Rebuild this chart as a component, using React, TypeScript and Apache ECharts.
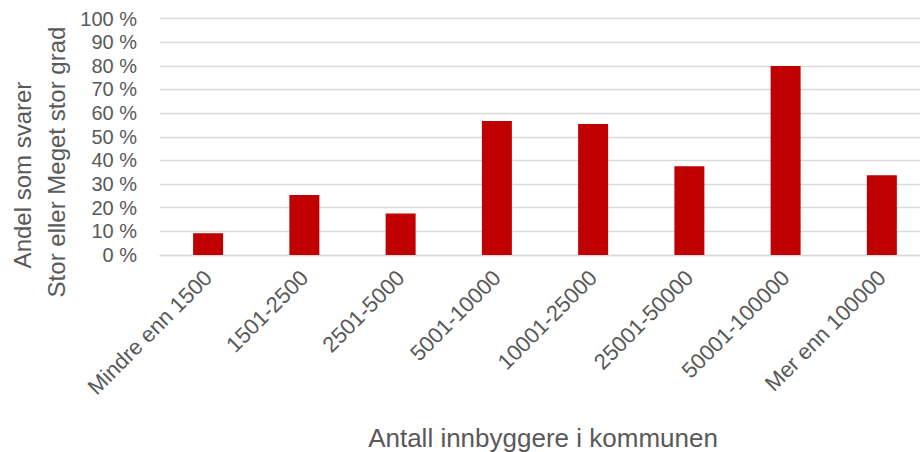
import React, { useEffect, useRef } from "react";
import * as echarts from "echarts";

const categories = [
  "Mindre enn 1500",
  "1501-2500",
  "2501-5000",
  "5001-10000",
  "10001-25000",
  "25001-50000",
  "50001-100000",
  "Mer enn 100000",
];
const values = [9.2, 25.4, 17.6, 56.7, 55.4, 37.5, 79.9, 33.7];
const yTitleLines = ["Andel som svarer", "Stor eller Meget stor grad"];
const xTitle = "Antall innbyggere i kommunen";

const FONT = "'Liberation Sans', Arial, sans-serif";
const GREY = "#595959";

export default function App() {
  const ref = useRef<HTMLDivElement>(null);
  useEffect(() => {
    if (!ref.current) return;
    const chart = echarts.init(ref.current, undefined, { renderer: "svg" });
    chart.setOption({
      animation: false,
      backgroundColor: "#ffffff",
      grid: { left: 160, top: 18.5, right: 10, height: 236.5, containLabel: false },
      xAxis: {
        type: "category",
        data: categories,
        axisLine: { show: true, lineStyle: { color: "#d9d9d9", width: 1.3 } },
        axisTick: { show: false },
        axisLabel: {
          rotate: 45,
          margin: 19,
          interval: 0,
          color: GREY,
          fontSize: 22,
          fontFamily: FONT,
          padding: [26, 0, 0, 0],
        },
      },
      yAxis: {
        type: "value",
        min: 0,
        max: 100,
        interval: 10,
        axisLine: { show: false },
        axisTick: { show: false },
        splitLine: { lineStyle: { color: "#d9d9d9", width: 1.3 } },
        axisLabel: {
          margin: 23,
          color: GREY,
          fontSize: 20,
          fontFamily: FONT,
          formatter: (v: number) => `${v} %`,
        },
      },
      series: [
        {
          type: "bar",
          data: values,
          barWidth: 30,
          itemStyle: { color: "#c00000" },
        },
      ],
      graphic: [
        {
          type: "text",
          x: 22,
          y: 175,
          rotation: Math.PI / 2,
          style: {
            text: yTitleLines[0],
            fill: GREY,
            font: `24px ${FONT}`,
            align: "center",
            verticalAlign: "middle",
          },
        },
        {
          type: "text",
          x: 56,
          y: 162,
          rotation: Math.PI / 2,
          style: {
            text: yTitleLines[1],
            fill: GREY,
            font: `24px ${FONT}`,
            align: "center",
            verticalAlign: "middle",
          },
        },
        {
          type: "text",
          x: 543,
          y: 438,
          style: {
            text: xTitle,
            fill: GREY,
            font: `26px ${FONT}`,
            align: "center",
            verticalAlign: "middle",
          },
        },
      ],
    });
    return () => chart.dispose();
  }, []);
  return (
    <div
      style={{
        position: "absolute",
        left: 0,
        top: 0,
        width: 920,
        height: 452,
        overflow: "hidden",
        background: "#ffffff",
      }}
    >
      <div ref={ref} style={{ width: 940, height: 452 }} />
    </div>
  );
}
